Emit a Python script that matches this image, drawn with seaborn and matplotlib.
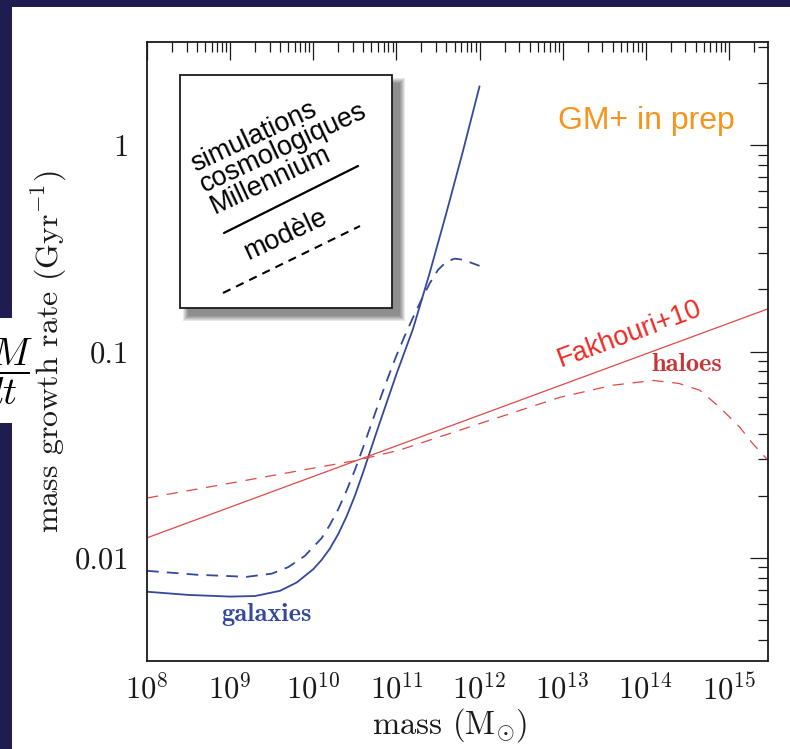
import matplotlib
matplotlib.use("Agg")
import matplotlib.pyplot as plt
import numpy as np
import pandas as pd
import seaborn as sns
from matplotlib.patches import Rectangle
from matplotlib.lines import Line2D
from matplotlib.ticker import FixedLocator, FixedFormatter, LogLocator, NullFormatter

# ---- data: log10 of mass (Msun) and growth rate (1/Gyr) ----
gal_sim_logm = [8.0, 8.5, 9.0, 9.3, 9.6, 9.8, 10.0, 10.1, 10.2, 10.3, 10.4, 10.5,
                10.6, 10.7, 10.8, 11.0, 11.2, 11.4, 11.6, 11.8, 12.0]
gal_sim_rate = [0.00685, 0.00661, 0.00649, 0.00653, 0.00692, 0.00759, 0.00881,
                0.00977, 0.01109, 0.01303, 0.01585, 0.01995, 0.0260, 0.0343, 0.0452,
                0.0776, 0.1288, 0.2399, 0.4677, 0.9333, 1.928]

gal_mod_logm = [8.0, 8.6, 9.2, 9.5, 9.7, 9.9, 10.1, 10.2, 10.3, 10.4, 10.5, 10.6,
                10.7, 10.8, 10.9, 11.0, 11.1, 11.2, 11.3, 11.4, 11.5, 11.6, 11.7,
                11.8, 11.9, 12.0]
gal_mod_rate = [0.00865, 0.00828, 0.00809, 0.00838, 0.00902, 0.01023, 0.01245,
                0.01445, 0.01718, 0.02113, 0.0266, 0.0343, 0.0447, 0.0582, 0.0750,
                0.0955, 0.1189, 0.1462, 0.1778, 0.2138, 0.2483, 0.2723, 0.2818,
                0.2786, 0.2692, 0.2600]

halo_fit_logm = [8.0, 15.47]
halo_fit_rate = [0.0125, 0.161]

halo_mod_logm = [8.0, 9.0, 10.0, 10.53, 11.04, 12.0, 12.97, 13.6, 14.09, 14.4, 14.65,
                 14.89, 15.13, 15.28, 15.47]
halo_mod_rate = [0.0195, 0.0230, 0.0272, 0.0297, 0.0333, 0.0447, 0.060, 0.0686, 0.0724,
                 0.070, 0.0649, 0.0536, 0.043, 0.036, 0.0297]

x_tick_exps = [8, 9, 10, 11, 12, 13, 14, 15]
y_tick_values = [0.01, 0.1, 1]
y_tick_labels = ["0.01", "0.1", "1"]

# ---- colours ----
NAVY = "#1e1c50"
BLUE = "#34489c"
RED = "#e04848"
RED_LABEL = "#c63638"
ORANGE = "#f7941d"
BRIGHT_RED = "#ee2a24"
INK = "#1a1a1a"

sns.set_theme(style="white")
plt.rcParams.update({
    "font.family": ["cmr10", "DejaVu Serif"],
    "mathtext.fontset": "cm",
    "axes.formatter.use_mathtext": True,
    "axes.unicode_minus": False,
})

W, H = 790, 749
fig = plt.figure(figsize=(W / 100, H / 100), dpi=100, facecolor=NAVY)


def fx(px):
    return px / W


def fy(py):
    return 1 - py / H


# white slide panel
fig.add_artist(Rectangle((fx(12), 0), 1 - fx(12), fy(7), transform=fig.transFigure,
                         facecolor="white", edgecolor="none", zorder=0))
# white tab behind the dM/dt fraction at the left edge
fig.add_artist(Rectangle((0, fy(423)), fx(14), fy(318) - fy(423), transform=fig.transFigure,
                         facecolor="white", edgecolor="none", zorder=0))
fig.text(fx(33), fy(372), r"$\dfrac{dM}{dt}$", ha="right", va="center",
         fontsize=28, color="black", zorder=2)

ax = fig.add_axes([fx(147), fy(661), fx(768) - fx(147), fy(42) - fy(661)])
ax.set_facecolor("none")
ax.set_xscale("log")
ax.set_yscale("log")

frames = [
    ("sim_gal", gal_sim_logm, gal_sim_rate),
    ("mod_gal", gal_mod_logm, gal_mod_rate),
    ("fit_halo", halo_fit_logm, halo_fit_rate),
    ("mod_halo", halo_mod_logm, halo_mod_rate),
]
df = pd.concat([
    pd.DataFrame({"series": name, "mass": np.power(10.0, lm), "rate": r})
    for name, lm, r in frames
], ignore_index=True)

styles = {
    "sim_gal": dict(color=BLUE, lw=1.3, linestyle="-"),
    "mod_gal": dict(color=BLUE, lw=1.3, linestyle=(0, (6.5, 4.5))),
    "fit_halo": dict(color=RED, lw=0.9, linestyle="-"),
    "mod_halo": dict(color=RED, lw=0.9, linestyle=(0, (9, 7))),
}
for name, st in styles.items():
    sns.lineplot(data=df[df["series"] == name], x="mass", y="rate", ax=ax,
                 estimator=None, sort=False, legend=False, **st)

ax.set_xlim(1e8, 10 ** 15.47)
ax.set_ylim(10 ** -2.5, 10 ** 0.5)

ax.xaxis.set_major_locator(FixedLocator([10.0 ** e for e in x_tick_exps]))
ax.xaxis.set_major_formatter(FixedFormatter([rf"$10^{{{e}}}$" for e in x_tick_exps]))
ax.xaxis.set_minor_locator(LogLocator(base=10, subs=np.arange(2, 10), numticks=100))
ax.xaxis.set_minor_formatter(NullFormatter())
ax.yaxis.set_major_locator(FixedLocator(y_tick_values))
ax.yaxis.set_major_formatter(FixedFormatter(y_tick_labels))
ax.yaxis.set_minor_locator(LogLocator(base=10, subs=np.arange(2, 10), numticks=100))
ax.yaxis.set_minor_formatter(NullFormatter())

ax.tick_params(which="both", direction="in", top=True, right=True, color=INK,
               width=0.9, labelcolor=INK)
ax.tick_params(which="major", length=13, labelsize=22)
ax.tick_params(axis="x", which="major", pad=9)
ax.tick_params(axis="y", which="major", pad=13)
ax.tick_params(which="minor", length=7)
for sp in ax.spines.values():
    sp.set_color(INK)
    sp.set_linewidth(1.3)

ax.set_xlabel(r"mass (M$_{\odot}$)", fontsize=23.5, color=INK)
ax.set_ylabel(r"mass growth rate (Gyr$^{-1}$)", fontsize=23, color=INK)
ax.xaxis.set_label_coords(0.488, -0.073)
ax.yaxis.set_label_coords(-0.125, 0.5)

# curve annotations
fig.text(fx(267), fy(614), "galaxies", family="cmb10", fontsize=19, color=BLUE,
         ha="center", va="center")
fig.text(fx(687), fy(364), "haloes", family="cmb10", fontsize=19, color=RED_LABEL,
         ha="center", va="center")
fig.text(fx(630), fy(334), "Fakhouri+10", family="Liberation Sans", fontsize=19.5,
         color=BRIGHT_RED, rotation=20.3, rotation_mode="anchor", ha="center", va="center")
fig.text(fx(646), fy(121), "GM+ in prep", family="Liberation Sans", fontsize=23,
         color=ORANGE, ha="center", va="center")

# key box with drop shadow
bx0, by0, bx1, by1 = 180, 75, 392, 308
for s in range(6):
    fig.add_artist(Rectangle((fx(bx0 + 8 - s), fy(by1 + 8 + s)), fx(bx1 - bx0 + 2 * s),
                             fy(by0) - fy(by1 + 2 * s), transform=fig.transFigure,
                             facecolor="black", edgecolor="none", alpha=0.09, zorder=4))
fig.add_artist(Rectangle((fx(bx0), fy(by1)), fx(bx1 - bx0), fy(by0) - fy(by1),
                         transform=fig.transFigure, facecolor="white", edgecolor=INK,
                         linewidth=1.3, zorder=5))

ang = 25.0
perp = np.array([np.sin(np.radians(ang)), np.cos(np.radians(ang))])
start = np.array([195.0, 172.0])
for i, line in enumerate(["simulations", "cosmologiques", "Millennium"]):
    p = start + i * 23.0 * perp
    fig.text(fx(p[0]), fy(p[1]), line, family="Liberation Sans", fontsize=19.5,
             color="black", rotation=ang, rotation_mode="anchor", ha="left",
             va="baseline", zorder=6)
fig.text(fx(248), fy(260), "modèle", family="Liberation Sans", fontsize=19.5,
         color="black", rotation=ang, rotation_mode="anchor", ha="left",
         va="baseline", zorder=6)
fig.add_artist(Line2D([fx(224), fx(358)], [fy(233), fy(166)], transform=fig.transFigure,
                      color="black", lw=1.6, zorder=6))
fig.add_artist(Line2D([fx(223), fx(360)], [fy(293), fy(226)], transform=fig.transFigure,
                      color="black", lw=1.5, linestyle=(0, (4, 3)), zorder=6))

fig.savefig("out.png", dpi=100, facecolor=NAVY)
